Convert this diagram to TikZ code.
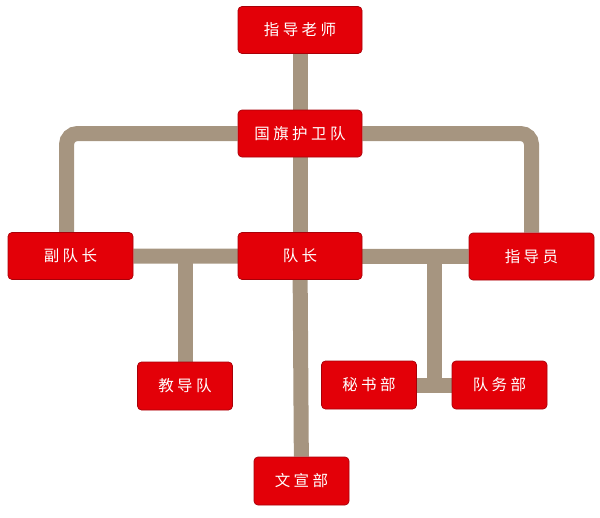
\documentclass[tikz,border=0pt]{standalone}
\usepackage{fontspec}
\newfontfamily\cjk[LetterSpace=22]{Noto Sans CJK SC}
\usetikzlibrary{backgrounds,calc}
\definecolor{boxred}{HTML}{E30008}
\definecolor{boxedge}{HTML}{A80008}
\definecolor{linktan}{HTML}{A69580}
\tikzset{
  unitbox/.style={rectangle, rounded corners=4pt, fill=boxred, draw=boxedge, line width=0.7pt,
    text=white, font=\cjk\fontsize{15.5}{18}\selectfont, inner sep=0pt},
  bigbox/.style={unitbox, minimum width=124pt, minimum height=47pt},
  smallbox/.style={unitbox, minimum width=95pt, minimum height=48pt},
  link/.style={draw=linktan, line width=15pt},
}
\begin{document}
\begin{tikzpicture}[x=1pt,y=-1pt]
\useasboundingbox (0,0) rectangle (600,517);
\node[bigbox] (teacher) at (300,30) {指导老师};
\node[bigbox] (guard) at (300,133.5) {国旗护卫队};
\node[bigbox, minimum width=125pt] (vice) at (70.5,256) {副队长};
\node[bigbox] (captain) at (300,256) {队长};
\node[bigbox, minimum width=125pt] (instructor) at (531.5,256.5) {指导员};
\node[smallbox] (jiaodao) at (185,386) {教导队};
\node[smallbox] (mishu) at (369,385) {秘书部};
\node[smallbox] (duiwu) at (499.5,385) {队务部};
\node[smallbox] (wenxuan) at (301.5,481) {文宣部};
\coordinate (split) at ($(mishu.east)!0.5!(duiwu.west)$);
\begin{scope}[on background layer]
  \draw[link] (teacher) -- (guard);
  \draw[link] (guard) -- (captain);
  \draw[link, rounded corners=11pt] (guard) -| ([xshift=-4pt]vice.north);
  \draw[link, rounded corners=11pt] (guard) -| (instructor);
  \draw[link] (vice) -- (instructor);
  \draw[link] (captain) -- (wenxuan);
  \draw[link] (jiaodao |- captain) -- (jiaodao);
  \draw[link] (split |- captain) -- ([yshift=7.5pt]split);
  \draw[link] (mishu) -- (duiwu);
\end{scope}
\end{tikzpicture}
\end{document}
